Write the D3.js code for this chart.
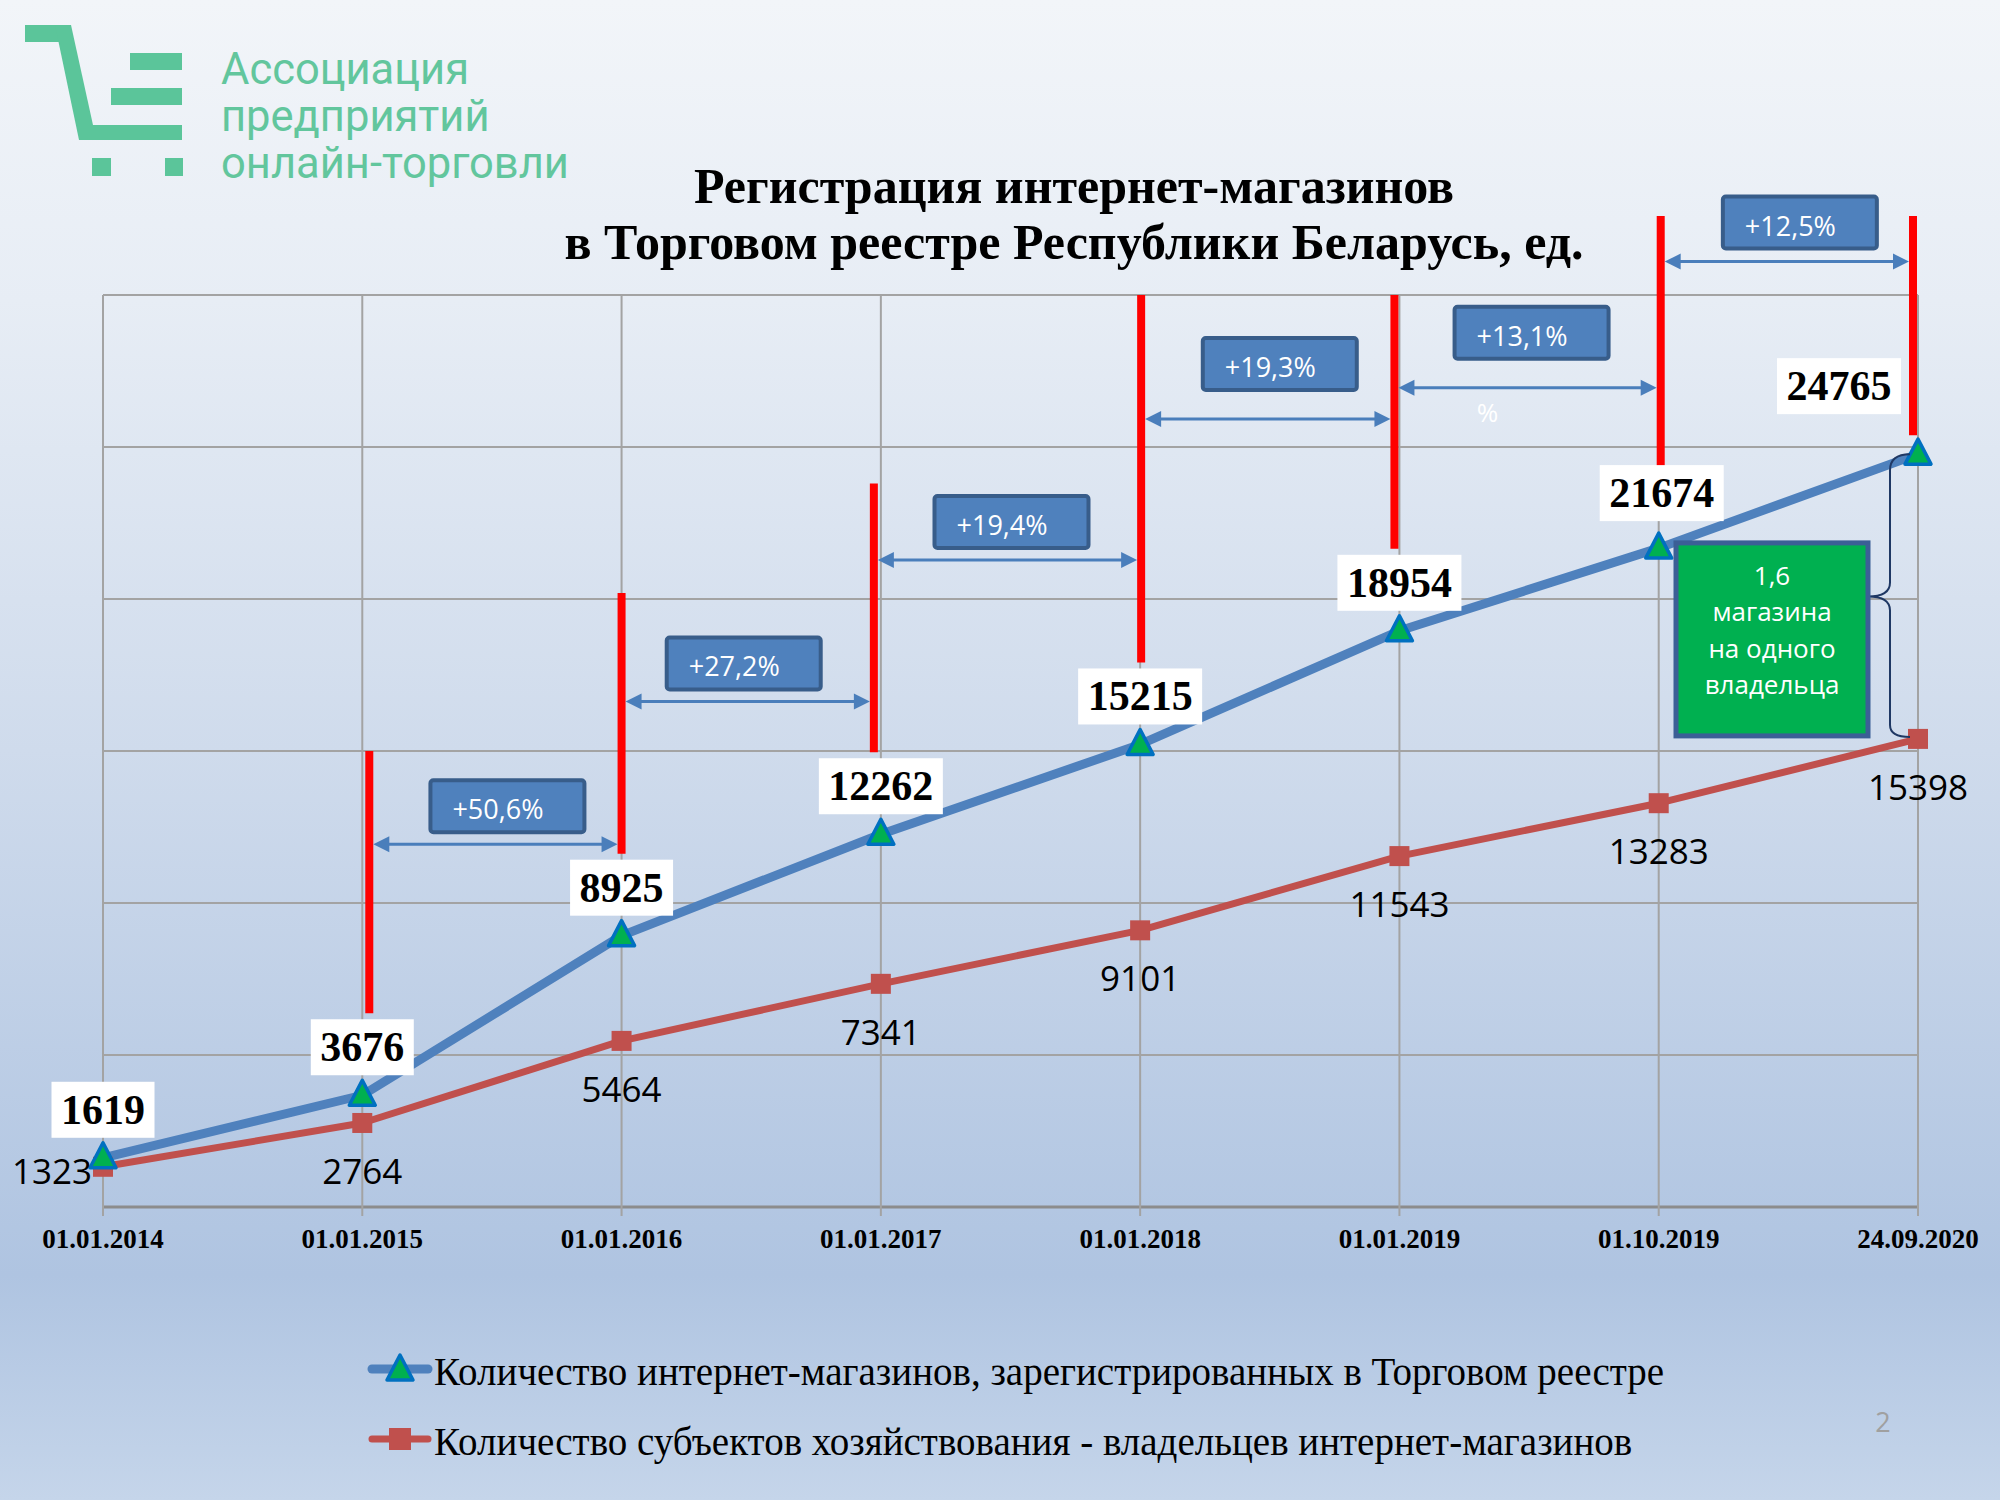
<!DOCTYPE html>
<html><head><meta charset="utf-8">
<script src="https://cdn.jsdelivr.net/npm/d3@7"></script>
<style>html,body{margin:0;padding:0;background:#fff}svg{display:block}</style>
</head><body>
<script>
// ---------- data ----------
const categories = ["01.01.2014","01.01.2015","01.01.2016","01.01.2017","01.01.2018","01.01.2019","01.10.2019","24.09.2020"];
const shops  = [1619,3676,8925,12262,15215,18954,21674,24765];
const owners = [1323,2764,5464,7341,9101,11543,13283,15398];
const growthLabels = ["+50,6%","+27,2%","+19,4%","+19,3%","+13,1%","+12,5%"];
const yTicks = [0,5000,10000,15000,20000,25000,30000];
const seriesNames = ["Количество интернет-магазинов, зарегистрированных в Торговом реестре",
                     "Количество субъектов хозяйствования - владельцев интернет-магазинов"];
const titleLines = ["Регистрация интернет-магазинов","в Торговом реестре Республики Беларусь, ед."];
const logoLines = ["Ассоциация","предприятий","онлайн-торговли"];
const ratioLines = ["1,6","магазина","на одного","владельца"];
const pageNumber = "2";

// ---------- layout ----------
const W = 2000, H = 1500;
const SERIF = "'Liberation Serif','Times New Roman',serif";
const SANS = "'Open Sans','Noto Sans',sans-serif";
const BLUE = "#4f81bd", RED = "#c0504d";

const svg = d3.select("body").append("svg").attr("width", W).attr("height", H);
const defs = svg.append("defs");
const grad = defs.append("linearGradient").attr("id","bg").attr("x1",0).attr("y1",0).attr("x2",0).attr("y2",1);
[[0,"#f2f5f9"],[0.2,"#e7edf5"],[0.5,"#cfdbec"],[0.85,"#afc4e1"],[1,"#c5d5ea"]]
  .forEach(([o,c]) => grad.append("stop").attr("offset",o).attr("stop-color",c));
svg.append("rect").attr("width",W).attr("height",H).attr("fill","url(#bg)");

const x = d3.scalePoint().domain(categories).range([103,1918]);
const y = d3.scaleLinear().domain([0,30000]).range([1207,295]);

// ---------- logo ----------
const LOGO = "#5bc59a";
const logo = svg.append("g").attr("fill", LOGO);
logo.append("rect").attr("x",25).attr("y",25).attr("width",44).attr("height",17);
logo.append("polygon").attr("points","55,25 71,25 93,125 79,140");
logo.append("rect").attr("x",79).attr("y",125).attr("width",103).attr("height",15);
logo.append("rect").attr("x",130).attr("y",53).attr("width",52).attr("height",17);
logo.append("rect").attr("x",111).attr("y",88).attr("width",71).attr("height",17);
logo.append("rect").attr("x",92).attr("y",158).attr("width",19).attr("height",18);
logo.append("rect").attr("x",165).attr("y",158).attr("width",18).attr("height",18);
logo.selectAll("text.logo").data(logoLines).join("text")
  .attr("x",221).attr("y",(d,i)=>84+i*47)
  .attr("font-family","Roboto,sans-serif").attr("font-size",43.5).attr("fill","#62c69d")
  .text(d=>d);

// ---------- title ----------
svg.selectAll("text.title").data(titleLines).join("text")
  .attr("x",1074).attr("y",(d,i)=>203+i*56).attr("text-anchor","middle")
  .attr("font-family",SERIF).attr("font-weight","bold").attr("font-size",50).attr("fill","#000")
  .text(d=>d);

// ---------- grid ----------
const grid = svg.append("g");
grid.selectAll("line.h").data(yTicks).join("line")
  .attr("x1",x.range()[0]).attr("x2",x.range()[1])
  .attr("y1",d=>y(d)).attr("y2",d=>y(d))
  .attr("stroke",d=>d===0?"#8c8c8c":"#a3a3a3").attr("stroke-width",d=>d===0?3:2);
grid.selectAll("line.v").data(categories).join("line")
  .attr("x1",d=>x(d)).attr("x2",d=>x(d))
  .attr("y1",y(30000)).attr("y2",y(0)+9)
  .attr("stroke","#a3a3a3").attr("stroke-width",2);

// x axis labels
svg.selectAll("text.xl").data(categories).join("text")
  .attr("x",d=>x(d)).attr("y",1248).attr("text-anchor","middle")
  .attr("font-family",SERIF).attr("font-weight","bold").attr("font-size",27).attr("fill","#000")
  .text(d=>d);

// ---------- annotation lines (red) ----------
const redMarks = [
  {i:1, top:15000, dx:7}, {i:2, top:20200, dx:0}, {i:3, top:23800, dx:-7},
  {i:4, top:30000, dx:1}, {i:5, top:30000, dx:-5}, {i:6, top:32600, dx:2}, {i:7, top:32600, dx:-5}
];
const labelDy = [-48,-48,-48,-48,-48,-48,-55,-68];
const labelDx = [0,0,0,0,0,0,3,-79];
const boxH = 56;
function labelTop(i){ return y(shops[i]) + labelDy[i] - boxH/2; }
redMarks.forEach(m => {
  m.x = x(categories[m.i]) + m.dx;
  m.y1 = y(m.top);
  m.y2 = m.i === 7 ? y(shops[m.i]) - 19 : (m.i === 6 ? labelTop(m.i) + 1 : labelTop(m.i) - 6);
});

// ---------- series ----------
const line = d3.line().x((d,i)=>x(categories[i])).y(d=>y(d));
svg.append("path").datum(owners).attr("d",line).attr("fill","none")
  .attr("stroke",RED).attr("stroke-width",7).attr("stroke-linejoin","round");
svg.append("path").datum(shops).attr("d",line).attr("fill","none")
  .attr("stroke",BLUE).attr("stroke-width",9).attr("stroke-linejoin","round");

// red annotation lines drawn over series
svg.selectAll("line.red").data(redMarks).join("line")
  .attr("x1",d=>d.x).attr("x2",d=>d.x).attr("y1",d=>d.y1).attr("y2",d=>d.y2)
  .attr("stroke","#ff0000").attr("stroke-width",8);

// markers
svg.selectAll("rect.sq").data(owners).join("rect")
  .attr("x",(d,i)=>x(categories[i])-10).attr("y",d=>y(d)-10)
  .attr("width",20).attr("height",20).attr("fill",RED);
function tri(cx,cy){ return `M${cx},${cy-15}L${cx+13},${cy+10}L${cx-13},${cy+10}Z`; }
svg.selectAll("path.tri").data(shops).join("path")
  .attr("d",(d,i)=>tri(x(categories[i]),y(d)))
  .attr("fill","#00b050").attr("stroke","#0070c0").attr("stroke-width",3.5).attr("stroke-linejoin","round");

// ---------- growth arrows and boxes ----------
const arrowLevel = [11930,16630,21280,25920,26950,31100];
const boxGap = [12,12,12,29,29,13];
const boxDx = [12,-4,4,12,4,13];
const AR = "#4a7ebb";
const ag = svg.append("g");
growthLabels.forEach((lab,k) => {
  const xa = redMarks[k].x + 4, xb = redMarks[k+1].x - 4, ya = y(arrowLevel[k]);
  ag.append("line").attr("x1",xa+12).attr("x2",xb-12).attr("y1",ya).attr("y2",ya)
    .attr("stroke",AR).attr("stroke-width",3);
  ag.append("path").attr("d",`M${xa},${ya}L${xa+16},${ya-8}L${xa+16},${ya+8}Z`).attr("fill",AR);
  ag.append("path").attr("d",`M${xb},${ya}L${xb-16},${ya-8}L${xb-16},${ya+8}Z`).attr("fill",AR);
  const bw = 154, bh = 52;
  const bx = (xa+xb)/2 + boxDx[k] - bw/2, by = ya - boxGap[k] - bh;
  ag.append("rect").attr("x",bx).attr("y",by).attr("width",bw).attr("height",bh).attr("rx",3)
    .attr("fill","#4f81bd").attr("stroke","#385d8a").attr("stroke-width",4);
  ag.append("text").attr("x",bx+22).attr("y",by+39)
    .attr("font-family",SANS).attr("font-size",27).attr("fill","#fff").text(lab);
  if (k === 4) {
    ag.append("text").attr("x",(xa+xb)/2-40).attr("y",ya+34).attr("text-anchor","middle")
      .attr("font-family",SANS).attr("font-size",26).attr("fill","#fff").text("%");
  }
});

// ---------- value labels ----------
const vl = svg.append("g");
shops.forEach((v,i) => {
  const cx = x(categories[i]) + labelDx[i], cy = y(v) + labelDy[i];
  const t = vl.append("text").attr("x",cx).attr("y",cy+14).attr("text-anchor","middle")
    .attr("font-family",SERIF).attr("font-weight","bold").attr("font-size",42).attr("fill","#000")
    .text(d3.format("d")(v));
  const w = t.node().getComputedTextLength() + 19;
  vl.insert("rect","text").attr("x",cx-w/2).attr("y",cy-boxH/2).attr("width",w).attr("height",boxH).attr("fill","#fff");
});
owners.forEach((v,i) => {
  const px = x(categories[i]), py = y(v);
  const first = i === 0;
  svg.append("text")
    .attr("x", first ? px-11 : px).attr("y", first ? py+17 : py+61)
    .attr("text-anchor", first ? "end" : "middle")
    .attr("font-family",SANS).attr("font-size",35).attr("fill","#000")
    .text(d3.format("d")(v));
});

// ---------- ratio box and brace ----------
const lx = x(categories[7]);
const yTop = y(shops[7]), yBot = y(owners[7]);
const bxR = lx - 50, bxL = lx - 242, byT = yBot - 196, byB = yBot - 3;
const yMid = (yTop + yBot)/2;
const braceX = lx - 28;
svg.append("path")
  .attr("d",`M${lx-8},${yTop}Q${braceX},${yTop} ${braceX},${yTop+16}L${braceX},${yMid-14}Q${braceX},${yMid} ${bxR},${yMid}`
           +`Q${braceX},${yMid} ${braceX},${yMid+14}L${braceX},${yBot-14}Q${braceX},${yBot-2} ${lx-8},${yBot-2}`)
  .attr("fill","none").attr("stroke","#1f3864").attr("stroke-width",2);
svg.append("rect").attr("x",bxL).attr("y",byT).attr("width",bxR-bxL).attr("height",byB-byT)
  .attr("fill","#00b050").attr("stroke","#3b5f96").attr("stroke-width",5);
svg.selectAll("text.ratio").data(ratioLines).join("text")
  .attr("x",(bxL+bxR)/2).attr("y",(d,i)=>byT+42+i*36.5).attr("text-anchor","middle")
  .attr("font-family",SANS).attr("font-size",26).attr("fill","#fff").text(d=>d);

// ---------- legend ----------
const legY = [1369, 1439];
const lg = svg.append("g");
lg.append("line").attr("x1",372).attr("x2",428).attr("y1",legY[0]).attr("y2",legY[0])
  .attr("stroke",BLUE).attr("stroke-width",9).attr("stroke-linecap","round");
lg.append("path").attr("d",tri(400,legY[0]+1)).attr("fill","#00b050").attr("stroke","#0070c0").attr("stroke-width",3.5).attr("stroke-linejoin","round");
lg.append("line").attr("x1",372).attr("x2",428).attr("y1",legY[1]).attr("y2",legY[1])
  .attr("stroke",RED).attr("stroke-width",7).attr("stroke-linecap","round");
lg.append("rect").attr("x",389).attr("y",legY[1]-11).attr("width",22).attr("height",22).attr("fill",RED);
lg.selectAll("text").data(seriesNames).join("text")
  .attr("x",434).attr("y",(d,i)=>legY[i]+16)
  .attr("font-family",SERIF).attr("font-size",39).attr("fill","#000").text(d=>d);

svg.append("text").attr("x",1883).attr("y",1432).attr("text-anchor","middle")
  .attr("font-family",SANS).attr("font-size",27).attr("fill","#a0a0a0").text(pageNumber);
</script>
</body></html>
